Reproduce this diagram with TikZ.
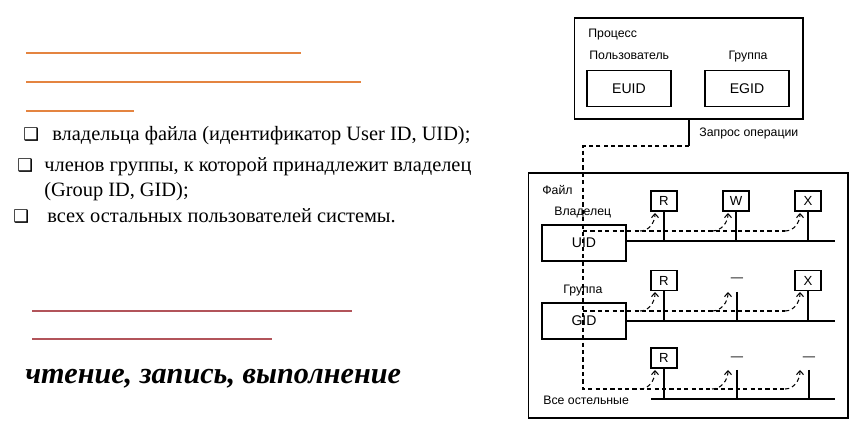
\documentclass[tikz,border=0pt]{standalone}
\usepackage{fontspec}
\setmainfont{Liberation Serif}
\setsansfont{Liberation Sans}
\newfontfamily\symfont{DejaVu Sans}
\usetikzlibrary{arrows.meta}

\definecolor{linkorange}{RGB}{228,132,64}
\definecolor{linkred}{RGB}{178,84,90}

\tikzset{
    lbl/.style={font=\sffamily\fontsize{7}{8}\selectfont, inner sep=0pt},
    idbox/.style={draw, line width=0.6pt, minimum width=1.68cm, minimum height=0.72cm, font=\sffamily\fontsize{8}{9}\selectfont},
    permbox/.style={draw, line width=0.6pt, minimum width=0.52cm, minimum height=0.4cm, inner sep=0pt, font=\sffamily\fontsize{7.5}{8}\selectfont},
    req/.style={line width=0.6pt, dash pattern=on 2.4pt off 1.8pt},
    grant/.style={req, -{Straight Barb[length=2.2pt, width=4pt]}},
    bullet/.style={font=\fontsize{11.6}{14.2}\selectfont, inner sep=0pt, anchor=base west, align=left},
    boxmark/.style={font=\symfont\fontsize{10}{10}\selectfont, inner sep=0pt, anchor=base west}
}

\begin{document}
\begin{tikzpicture}[x=0.02cm, y=-0.02cm]
    \useasboundingbox (0,0) rectangle (866,442);

    % placeholder links
    \draw[linkorange, line width=1.1pt] (26,53) -- (301,53);
    \draw[linkorange, line width=1.1pt] (26,82) -- (361,82);
    \draw[linkorange, line width=0.8pt] (26,111) -- (134,111);
    \draw[linkred, line width=1.1pt] (32,311) -- (352,311);
    \draw[linkred, line width=1.1pt] (32,339) -- (272,339);

    % list of owners
    \node[boxmark] (b1) at (23,141) {❑};
    \node[bullet] (t1) at (52,141) {владельца файла (идентификатор User ID, UID);};
    \node[boxmark] (b2) at (17,172) {❑};
    \node[bullet] (t2) at (44,172) {членов группы, к которой принадлежит владелец};
    \node[bullet] (t2b) at (44,197) {(Group ID, GID);};
    \node[boxmark] (b3) at (13,223) {❑};
    \node[bullet] (t3) at (47,223) {всех остальных пользователей системы.};

    \node[anchor=base west, inner sep=0pt, font=\fontsize{17.2}{19}\selectfont\bfseries\itshape] (rwx) at (25,383) {чтение, запись, выполнение};

    % process
    \node[draw, line width=0.6pt, minimum width=4.58cm, minimum height=2.02cm] (proc) at (688.5,68.5) {};
    \node[lbl, anchor=base west] (proclbl) at (588,38) {Процесс};
    \node[lbl, anchor=base west] (userlbl) at (589,60) {Пользователь};
    \node[lbl, anchor=base] (grplbl) at (748,60) {Группа};
    \node[idbox] (euid) at (629,88.5) {EUID};
    \node[idbox] (egid) at (747,88.5) {EGID};
    \node[lbl, anchor=base west] (reqlbl) at (699,137) {Запрос операции};

    % file
    \node[draw, line width=0.6pt, minimum width=6.4cm, minimum height=4.9cm] (file) at (688,295.5) {};
    \node[lbl, anchor=base west] (filelbl) at (542,195) {Файл};
    \node[lbl, anchor=base west] (ownlbl) at (554,216) {Владелец};
    \node[lbl, anchor=base west] (gidlbl) at (563,294) {Группа};
    \node[lbl, anchor=base west] (othlbl) at (543,404) {Все остельные};
    \node[idbox] (uid) at (584,243) {UID};
    \node[idbox] (gid) at (584,321) {GID};

    \node[permbox] (ur) at (664,201) {R};
    \node[permbox] (uw) at (736,201) {W};
    \node[permbox] (ux) at (808,201) {X};
    \node[permbox] (gr) at (664,280.5) {R};
    \node[lbl] (gw) at (737,280) {---};
    \node[permbox] (gx) at (808,280.5) {X};
    \node[permbox] (or) at (664,358) {R};
    \node[lbl] (ow) at (737,359) {---};
    \node[lbl] (ox) at (809,359) {---};

    \coordinate (uend) at (835,241);
    \coordinate (gend) at (835,321);
    \coordinate (ostart) at (651,399);
    \coordinate (oend) at (835,399);

    % bit lines
    \begin{scope}[line width=0.6pt]
    \draw (uid.east |- uend) -- (uend);
    \draw (gid.east) -- (gend);
    \draw (ostart) -- (oend);
    \draw (ur.south) -- (ur.south |- uend);
    \draw (uw.south) -- (uw.south |- uend);
    \draw (ux.south) -- (ux.south |- uend);
    \draw (gr.south) -- (gr.south |- gend);
    \draw (737,292) -- (737,321);
    \draw (gx.south) -- (gx.south |- gend);
    \draw (or.south) -- (or.south |- oend);
    \draw (737,370) -- (737,399);
    \draw (809,370) -- (809,399);
    \end{scope}

    % request path
    \coordinate (turn) at (689,146);
    \coordinate (down) at (583,146);
    \draw[line width=0.6pt] (proc.south -| turn) -- (turn);
    \draw[req] (turn) -- (down) -- (583,389) -- (785,389);
    \draw[req] (583,231) -- (785,231);
    \draw[req] (583,311) -- (785,311);
    \foreach \y/\t in {231/213, 311/292, 389/370}{
        \draw[grant] (640,\y) to[out=0, in=-90] (655,\t);
        \draw[grant] (712,\y) to[out=0, in=-90] (728,\t);
        \draw[grant] (785,\y) to[out=0, in=-90] (800,\t);
    }
\end{tikzpicture}
\end{document}
